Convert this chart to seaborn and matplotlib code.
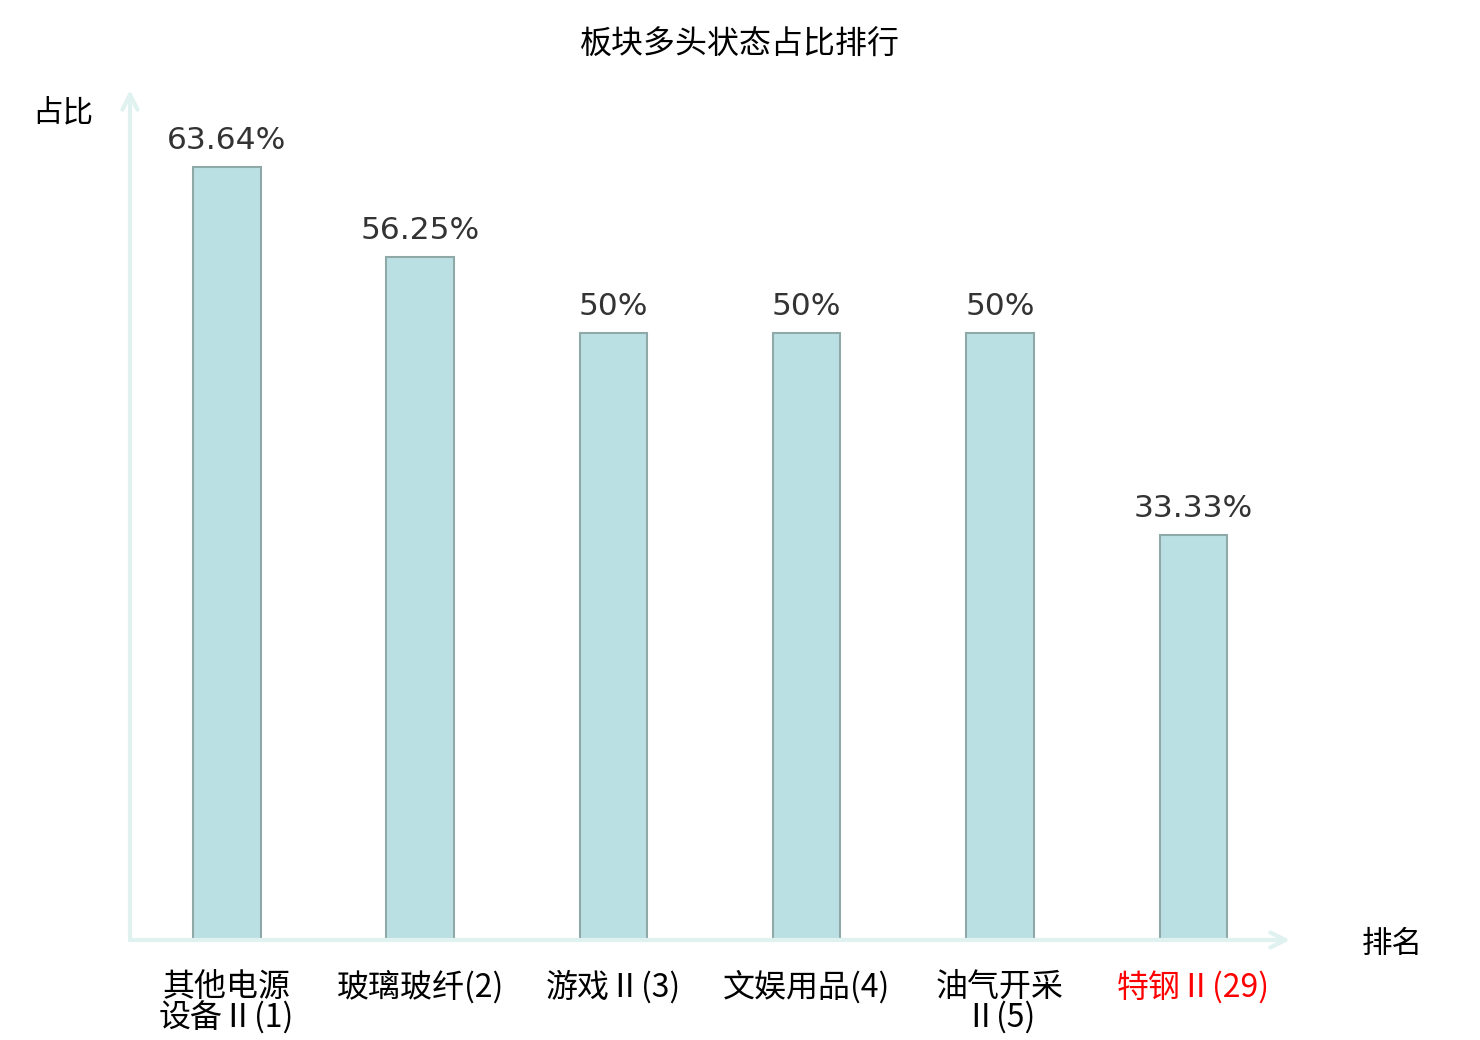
import matplotlib
matplotlib.use("Agg")
import matplotlib.pyplot as plt
import seaborn as sns
import pandas as pd

sns.set_theme(style="white")
plt.rcParams['font.family'] = ['Noto Sans CJK SC', 'DejaVu Sans']

categories = ["其他电源\n设备Ⅱ(1)", "玻璃玻纤(2)", "游戏Ⅱ(3)", "文娱用品(4)", "油气开采\nⅡ(5)", "特钢Ⅱ(29)"]
values = [63.64, 56.25, 50, 50, 50, 33.33]
value_labels = ["63.64%", "56.25%", "50%", "50%", "50%", "33.33%"]
label_colors = ["#000000", "#000000", "#000000", "#000000", "#000000", "#ff0000"]

df = pd.DataFrame({"cat": categories, "val": values})

W, H = 1480, 1040
fig = plt.figure(figsize=(W / 100, H / 100), dpi=100)
ax = fig.add_axes([130 / W, 100 / H, 1160 / W, 850 / H])

sns.barplot(data=df, x="cat", y="val", ax=ax, color="#bbe0e3", width=0.35,
            edgecolor="#8fa9a9", linewidth=1.5, saturation=1)

ax.set_xlim(-0.5, 5.5)
ax.set_ylim(0, 70)
for s in ax.spines.values():
    s.set_visible(False)
ax.set_yticks([])
ax.set_xlabel("")
ax.set_ylabel("")
ax.tick_params(axis="x", length=0, pad=22)
ax.set_xticks(range(len(categories)))
ax.set_xticklabels(categories, fontsize=23, linespacing=0.95, va="top")
for t, c in zip(ax.get_xticklabels(), label_colors):
    t.set_color(c)

for i, (v, lab) in enumerate(zip(values, value_labels)):
    ax.text(i, v + 1.5, lab, ha="center", va="baseline", fontsize=22.5,
            color="#333333", family="DejaVu Sans")

axis_col = "#dff2ef"
ax.annotate("", xy=(1.0, 0), xytext=(0, 0), xycoords="axes fraction",
            arrowprops=dict(arrowstyle="->,head_length=0.9,head_width=0.45", color=axis_col, lw=3,
                            shrinkA=0, shrinkB=0), annotation_clip=False)
ax.annotate("", xy=(0, 1.0), xytext=(0, 0), xycoords="axes fraction",
            arrowprops=dict(arrowstyle="->,head_length=0.9,head_width=0.45", color=axis_col, lw=3,
                            shrinkA=0, shrinkB=0), annotation_clip=False)

fig.text(740 / W, 1 - 45 / H, "板块多头状态占比排行", ha="center", va="center", fontsize=23, color="#000000")
fig.text(63 / W, 1 - 113 / H, "占比", ha="center", va="center", fontsize=22, color="#000000")
fig.text(1392 / W, 1 - 944 / H, "排名", ha="center", va="center", fontsize=22, color="#000000")

fig.savefig("out.png", dpi=100)
